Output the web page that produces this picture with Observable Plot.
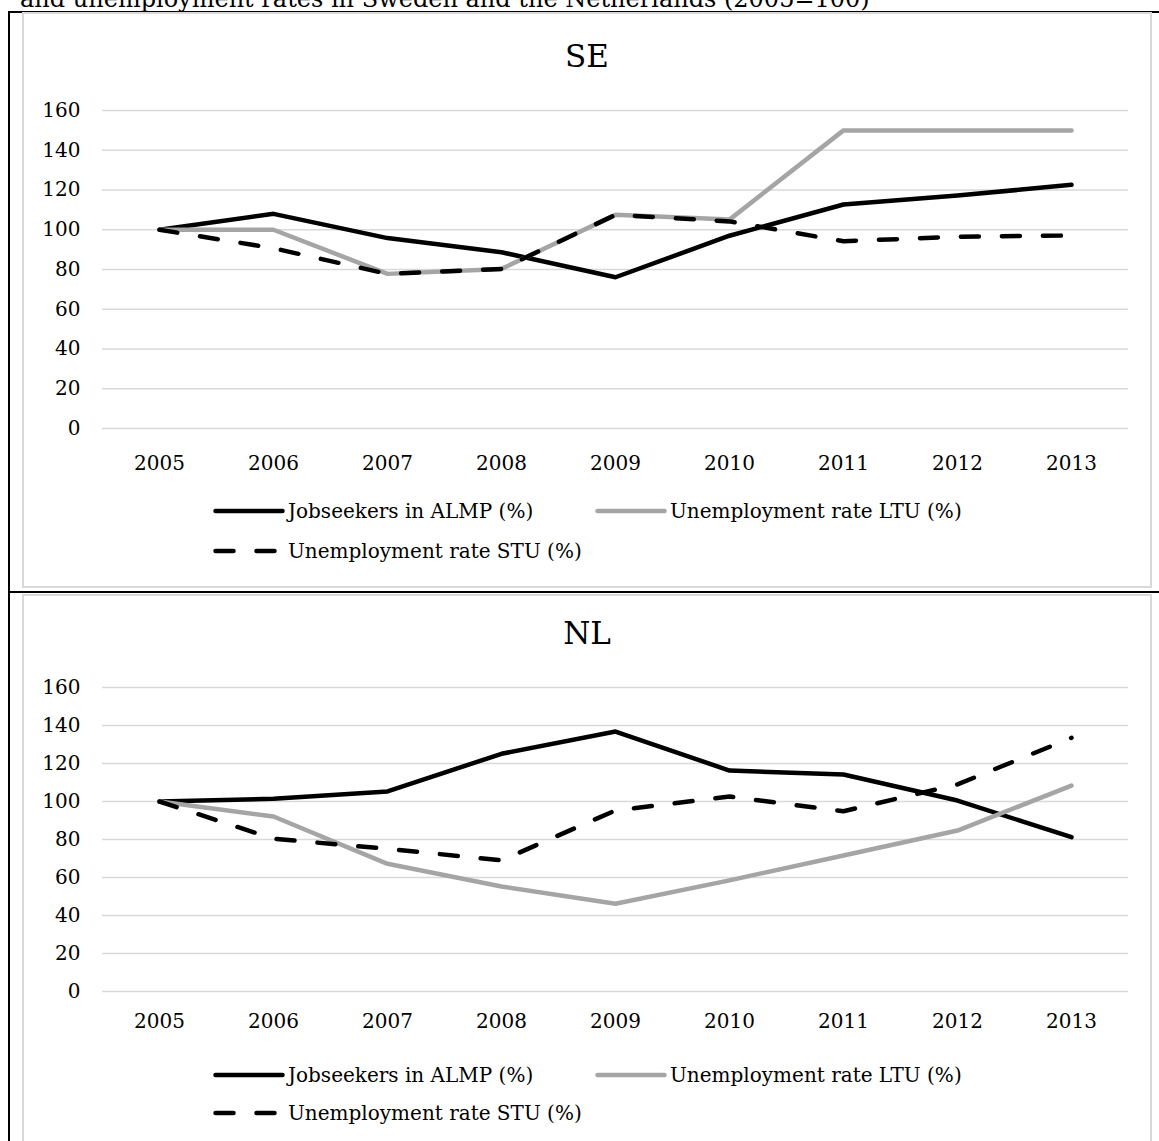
<!DOCTYPE html>
<html>
<head>
<meta charset="utf-8">
<script src="https://cdn.jsdelivr.net/npm/d3@7"></script>
<script src="https://cdn.jsdelivr.net/npm/@observablehq/plot@0.6"></script>
<style>
  html, body { margin: 0; padding: 0; background: #fff; }
  body { width: 1159px; height: 1141px; overflow: hidden; position: relative; font-family: "DejaVu Serif", serif; color: #000; }
  #doc-title { position: absolute; left: 20px; top: -13px; font-size: 24px; line-height: 24px; white-space: nowrap; }
  .rule { position: absolute; background: #000; }
  .panel { position: absolute; left: 22px; width: 1126px; border: 2px solid #d9d9d9; background: #fff; overflow: hidden; }
  .ptitle { position: absolute; left: 0; width: 100%; text-align: center; font-size: 31px; line-height: 40px; }
  .plotwrap { position: absolute; left: 0; }
  .plotwrap svg { overflow: visible; }
  .leg { position: absolute; display: flex; align-items: center; height: 24px; font-size: 20px; line-height: 24px; white-space: nowrap; }
  .leg svg { display: block; margin-right: 3px; }
</style>
</head>
<body>
<div id="doc-title">and unemployment rates in Sweden and the Netherlands (2005=100)</div>
<div class="rule" style="left:8px;top:11px;width:1151px;height:2px"></div>
<div class="rule" style="left:8px;top:11px;width:2px;height:1130px"></div>
<div class="rule" style="left:8px;top:591px;width:1151px;height:2px"></div>

<div class="panel" id="se" style="top:12px;height:572px"></div>
<div class="panel" id="nl" style="top:594px;height:560px"></div>

<script>
// ---- data ----
const years = ["2005", "2006", "2007", "2008", "2009", "2010", "2011", "2012", "2013"];
const yTicks = [0, 20, 40, 60, 80, 100, 120, 140, 160];
const seriesNames = ["Jobseekers in ALMP (%)", "Unemployment rate LTU (%)", "Unemployment rate STU (%)"];

const seJobseekers = [100, 108, 95.8, 88.7, 76.1, 97, 112.7, 117.2, 122.6];
const seLTU        = [100, 100, 77.8, 80.3, 107.5, 105.1, 150, 150, 150];
const seSTU        = [100, 90.7, 77.8, 80.3, 107.5, 104.2, 94.2, 96.5, 97.1];

const nlJobseekers = [100, 101.4, 105.3, 125.1, 136.8, 116.3, 114.2, 100.5, 81.2];
const nlLTU        = [100, 92.1, 67.2, 55.3, 46.2, 58.5, 71.6, 84.7, 108.4];
const nlSTU        = [100, 80.4, 75.1, 69, 95.3, 102.6, 94.9, 109, 133.5];

// ---- styles ----
const styles = [
  {stroke: "#000000", dash: null},
  {stroke: "#a5a5a5", dash: null},
  {stroke: "#000000", dash: "18,23"}
];

function buildRows(seriesValues) {
  const rows = [];
  seriesValues.forEach((vals, i) => {
    years.forEach((yr, j) => rows.push({series: seriesNames[i], year: yr, value: vals[j]}));
  });
  return rows;
}

function makeChart(seriesValues, cfg) {
  const rows = buildRows(seriesValues);
  const marks = [
    Plot.gridY(yTicks, {stroke: "#d9d9d9", strokeOpacity: 1, strokeWidth: 1.5})
  ];
  seriesNames.forEach((name, i) => {
    const s = styles[i];
    const o = {
      x: "year", y: "value",
      stroke: s.stroke, strokeWidth: 4.5,
      strokeLinejoin: "round", strokeLinecap: "round"
    };
    if (s.dash) o.strokeDasharray = s.dash;
    marks.push(Plot.line(rows.filter(d => d.series === name), o));
  });
  return Plot.plot({
    width: 1126,
    height: cfg.height,
    marginLeft: 78,
    marginRight: 22,
    marginTop: 20,
    marginBottom: cfg.marginBottom,
    style: {fontFamily: "DejaVu Serif, serif", fontSize: "20px", color: "#000", background: "transparent", overflow: "visible"},
    x: {type: "point", domain: years, padding: 0.5, label: null, tickSize: 0, tickPadding: cfg.xPad},
    y: {domain: [0, 160], ticks: yTicks, label: null, tickSize: 0, tickPadding: 22},
    marks
  });
}

function legendSwatch(i) {
  const s = styles[i];
  const ns = "http://www.w3.org/2000/svg";
  const svg = document.createElementNS(ns, "svg");
  svg.setAttribute("width", "72");
  svg.setAttribute("height", "10");
  const ln = document.createElementNS(ns, "line");
  ln.setAttribute("x1", "2.5"); ln.setAttribute("x2", "69.5");
  ln.setAttribute("y1", "5"); ln.setAttribute("y2", "5");
  ln.setAttribute("stroke", s.stroke);
  ln.setAttribute("stroke-width", "4.5");
  ln.setAttribute("stroke-linecap", "round");
  if (s.dash) ln.setAttribute("stroke-dasharray", s.dash);
  svg.appendChild(ln);
  return svg;
}

function addPanel(el, title, seriesValues, cfg) {
  const t = document.createElement("div");
  t.className = "ptitle";
  t.style.top = (cfg.titleY - 20) + "px";
  t.textContent = title;
  el.appendChild(t);

  const w = document.createElement("div");
  w.className = "plotwrap";
  w.style.top = cfg.plotTop + "px";
  w.appendChild(makeChart(seriesValues, cfg));
  el.appendChild(w);

  const items = [
    {i: 0, x: 189, y: cfg.leg1},
    {i: 1, x: 571, y: cfg.leg1},
    {i: 2, x: 189, y: cfg.leg2}
  ];
  items.forEach(it => {
    const d = document.createElement("div");
    d.className = "leg";
    d.style.left = it.x + "px";
    d.style.top = (it.y - 12) + "px";
    d.appendChild(legendSwatch(it.i));
    const span = document.createElement("span");
    span.textContent = seriesNames[it.i];
    d.appendChild(span);
    el.appendChild(d);
  });
}

addPanel(document.getElementById("se"), "SE", [seJobseekers, seLTU, seSTU],
  {titleY: 42, plotTop: 76, height: 388, marginBottom: 50, xPad: 27, leg1: 497, leg2: 537});
addPanel(document.getElementById("nl"), "NL", [nlJobseekers, nlLTU, nlSTU],
  {titleY: 37, plotTop: 71, height: 374, marginBottom: 50, xPad: 22, leg1: 479, leg2: 517});
</script>
</body>
</html>
